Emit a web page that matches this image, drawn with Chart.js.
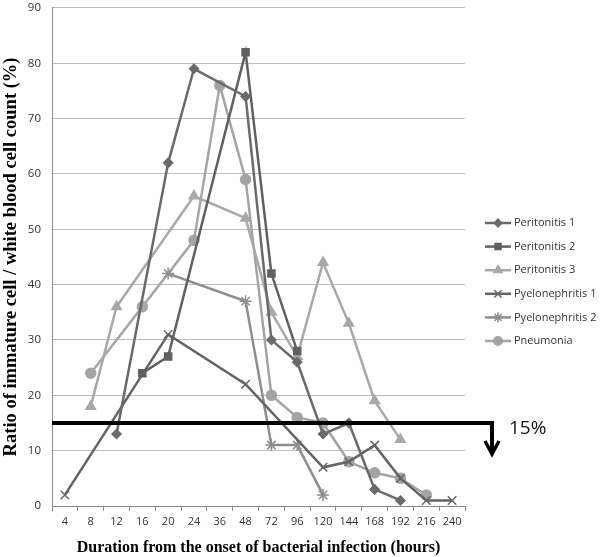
<!DOCTYPE html>
<html>
<head>
<meta charset="utf-8">
<script src="https://cdn.jsdelivr.net/npm/chart.js@4"></script>
<style>
  html, body { margin: 0; padding: 0; background: #fff; }
  #wrap { width: 600px; height: 557px; overflow: hidden; }
  #chart { display: block; margin-top: -10px; }
</style>
</head>
<body>
<div id="wrap"><canvas id="chart" width="600" height="567"></canvas></div>
<script>
// hours after onset (category axis)
const hours = ['4', '8', '12', '16', '20', '24', '36', '48', '72', '96', '120', '144', '168', '192', '216', '240'];

const peritonitis1 = [null, null, 13, null, 62, 79, null, 74, 30, 26, 13, 15, 3, 1, null, null];
const peritonitis2 = [null, null, null, 24, 27, null, null, 82, 42, 28, null, null, null, null, null, null];
const peritonitis3 = [null, 18, 36, null, null, 56, null, 52, 35, 27, 44, 33, 19, 12, null, null];
const pyelonephritis1 = [2, null, null, null, 31, null, null, 22, null, null, 7, 8, 11, 5, 1, 1];
const pyelonephritis2 = [null, null, null, null, 42, null, null, 37, 11, 11, 2, null, null, null, null, null];
const pneumonia = [null, 24, null, 36, null, 48, 76, 59, 20, 16, 15, 8, 6, 5, 2, null];

const yTicks = [0, 10, 20, 30, 40, 50, 60, 70, 80, 90];
const cutoff = 15;

function series(label, data, color, style, radius) {
    return {
        label: label,
        data: data,
        borderColor: color,
        backgroundColor: color,
        borderWidth: 2.5,
        pointStyle: style,
        pointRadius: radius,
        pointBorderWidth: 1.5,
        pointBorderColor: color,
        pointBackgroundColor: color,
        spanGaps: true,
        tension: 0,
    };
}

const datasets = [
    series('Peritonitis 1', peritonitis1, '#6a6a6a', 'rectRot', 4.5),
    series('Peritonitis 2', peritonitis2, '#606060', 'rect', 5),
    series('Peritonitis 3', peritonitis3, '#a8a8a8', 'triangle', 5.5),
    series('Pyelonephritis 1', pyelonephritis1, '#646464', 'crossRot', 6),
    series('Pyelonephritis 2', pyelonephritis2, '#8e8e8e', 'star', 6),
    series('Pneumonia', pneumonia, '#a4a4a4', 'circle', 5),
];

// black 15% line with the downward arrow, and the Excel-like legend
const extras = {
    id: 'extras',
    afterDatasetsDraw(chart) {
        const ctx = chart.ctx;
        const y = chart.scales.y.getPixelForValue(cutoff);
        const left = chart.chartArea.left;
        const ax = chart.chartArea.right + 27;
        ctx.save();
        ctx.strokeStyle = '#000';
        ctx.lineWidth = 4;
        ctx.beginPath();
        ctx.moveTo(left, y);
        ctx.lineTo(ax, y);
        ctx.lineTo(ax, y + 31);
        ctx.stroke();
        ctx.lineWidth = 3.5;
        ctx.beginPath();
        ctx.moveTo(ax - 7, y + 18);
        ctx.lineTo(ax, y + 31);
        ctx.lineTo(ax + 7, y + 18);
        ctx.stroke();
        ctx.fillStyle = '#111';
        ctx.font = '19px "Open Sans"';
        ctx.textBaseline = 'middle';
        ctx.textAlign = 'left';
        ctx.fillText(cutoff + '%', ax + 17, y + 6);

        // legend (page y 223 -> canvas y 233)
        let ly = 233;
        const lx = 485;
        ctx.font = '11px "Open Sans"';
        chart.data.datasets.forEach(ds => {
            ctx.strokeStyle = ds.borderColor;
            ctx.fillStyle = ds.borderColor;
            ctx.lineWidth = 2.5;
            ctx.beginPath();
            ctx.moveTo(lx, ly);
            ctx.lineTo(lx + 26, ly);
            ctx.stroke();
            ctx.lineWidth = 1.5;
            Chart.helpers.drawPoint(ctx, {
                pointStyle: ds.pointStyle,
                radius: ds.pointRadius * 0.85,
                rotation: 0,
                borderWidth: 1.5,
            }, lx + 13, ly);
            ctx.fillStyle = '#333';
            ctx.fillText(ds.label, lx + 29, ly);
            ly += 23.6;
        });
        ctx.restore();
    }
};

new Chart(document.getElementById('chart'), {
    type: 'line',
    data: { labels: hours, datasets: datasets },
    options: {
        responsive: false,
        animation: false,
        layout: { padding: { top: 0, right: 135, left: 0, bottom: 0 } },
        plugins: {
            legend: { display: false },
            tooltip: { enabled: false },
        },
        scales: {
            x: {
                offset: true,
                grid: {
                    offset: true,
                    drawOnChartArea: false,
                    drawTicks: true,
                    tickLength: 5,
                    color: '#8a8a8a',
                },
                border: { color: '#8a8a8a', width: 1 },
                ticks: {
                    color: '#333',
                    font: { family: 'Open Sans', size: 11 },
                    maxRotation: 0,
                    autoSkip: false,
                    padding: 4,
                },
                title: {
                    display: true,
                    text: 'Duration from the onset of bacterial infection (hours)',
                    color: '#000',
                    font: { family: 'Liberation Serif', size: 16, weight: 'bold' },
                    padding: { top: 2, bottom: 0 },
                },
                afterFit(s) { s.height = 51; },
            },
            y: {
                min: 0,
                max: 90,
                afterBuildTicks(s) { s.ticks = yTicks.map(v => ({ value: v })); },
                grid: {
                    color: '#bdbdbd',
                    lineWidth: 1,
                    drawTicks: false,
                },
                border: { color: '#8a8a8a', width: 1 },
                ticks: {
                    color: '#333',
                    font: { family: 'Open Sans', size: 11.5 },
                    padding: 11,
                },
                title: {
                    display: true,
                    text: 'Ratio of immature cell / white blood cell count (%)',
                    color: '#000',
                    font: { family: 'Liberation Serif', size: 18.5, weight: 'bold' },
                    padding: { top: 0, bottom: 0 },
                },
                afterFit(s) { s.width = 52; },
            },
        },
    },
    plugins: [extras],
});
</script>
</body>
</html>
